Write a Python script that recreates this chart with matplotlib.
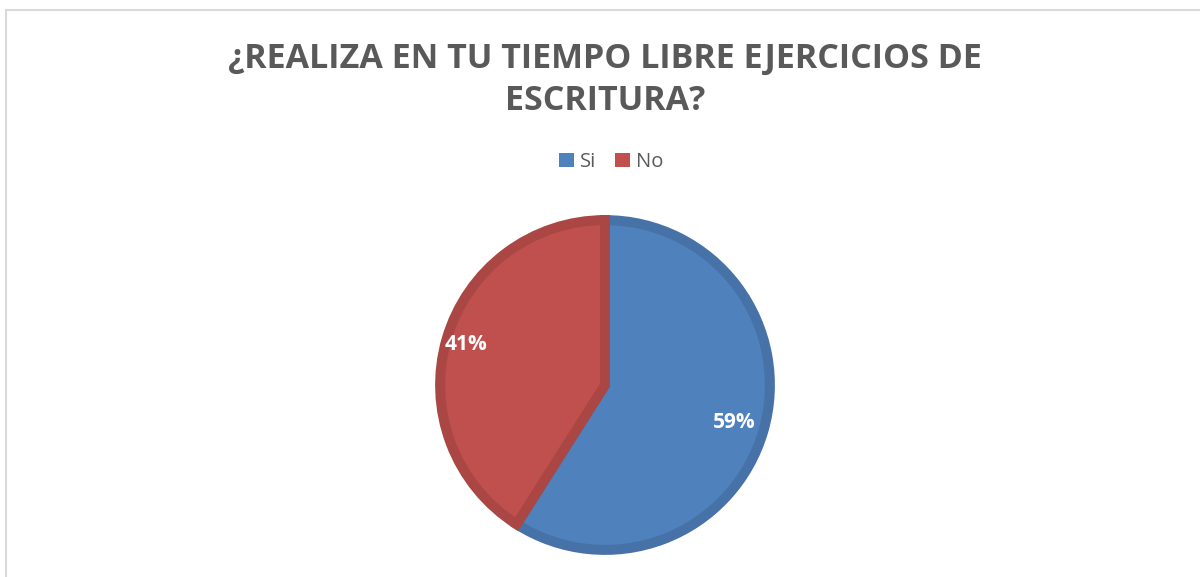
import numpy as np
import matplotlib
matplotlib.use('Agg')
import matplotlib.pyplot as plt
from matplotlib.patches import Patch
from matplotlib.lines import Line2D

# data
categories = ['Si', 'No']
values = [59, 41]
fill_colors = ['#4F81BD', '#C0504D']
edge_colors = ['#4672A8', '#AA4744']
label_dist = [0.79, 0.85]

title = '¿REALIZA EN TU TIEMPO LIBRE EJERCICIOS DE\nESCRITURA?'

W, H = 1200, 577
fig = plt.figure(figsize=(W / 100, H / 100), dpi=100)
fig.patch.set_facecolor('white')

# thin gray frame on top and left
fig.add_artist(Line2D([5.5 / W, 1], [1 - 9.5 / H, 1 - 9.5 / H], color='#D9D9D9', lw=1.5))
fig.add_artist(Line2D([5.5 / W, 5.5 / W], [0, 1 - 9.5 / H], color='#D9D9D9', lw=1.5))

cx, cy, r = 605, 385, 170
ax = fig.add_axes([(cx - r) / W, (H - cy - r) / H, 2 * r / W, 2 * r / H])

wedges, _ = ax.pie(values, colors=fill_colors, startangle=90, counterclock=False,
                   radius=0.97, wedgeprops=dict(linewidth=7.2))
for w, ec in zip(wedges, edge_colors):
    w.set_edgecolor(ec)
    w.set_joinstyle('miter')
ax.set_xlim(-1, 1)
ax.set_ylim(-1, 1)
ax.axis('off')

for w, v, d in zip(wedges, values, label_dist):
    ang = np.deg2rad((w.theta1 + w.theta2) / 2)
    ax.text(d * np.cos(ang), d * np.sin(ang), f'{v}%', ha='center', va='center',
            color='white', fontsize=15, fontweight='bold', family='Open Sans')

fig.text(cx / W, 1 - 80 / H, title, ha='center', va='center', fontsize=24.5,
         fontweight='bold', color='#595959', family='Open Sans', linespacing=1.3)

handles = [Patch(facecolor=c, edgecolor='none') for c in fill_colors]
fig.legend(handles, categories, loc='center', bbox_to_anchor=(611 / W, 1 - 162 / H),
           ncol=2, frameon=False, handlelength=0.75, handleheight=0.75,
           handletextpad=0.3, columnspacing=0.9,
           prop=dict(family='Open Sans', size=14.5), labelcolor='#595959')

fig.savefig('out.png', dpi=100)
